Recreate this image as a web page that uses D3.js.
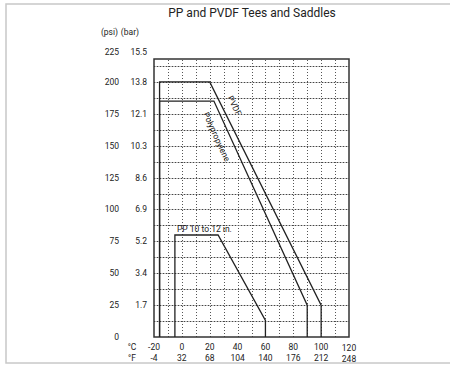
<!DOCTYPE html>
<html><head><meta charset="utf-8">
<script src="https://cdn.jsdelivr.net/npm/d3@7"></script>
<style>
body{margin:0;background:#fff;}
text{font-family:Roboto,"DejaVu Sans Condensed",sans-serif;fill:#222;}
</style></head>
<body>
<svg id="chart" width="450" height="367"></svg>
<script>
const title = "PP and PVDF Tees and Saddles";
const psiTicks = [0,25,50,75,100,125,150,175,200,225];
const barTicks = ["","1.7","3.4","5.2","6.9","8.6","10.3","12.1","13.8","15.5"];
const cTicks = [-20,0,20,40,60,80,100,120];
const fTicks = ["-4","32","68","104","140","176","212","248"];
const gridPsi = [12.5,25,37.5,50,62.5,75,87.5,100,112.5,125,137.5,150,162.5,175,187.5,200,212.5];
const gridC = [-10,0,10,20,30,40,50,60,70,80,90,100,110];
// curves: [°C, psi]
const pvdf = [[-16,0],[-16,200],[20,200],[100,25],[100,0]];
const polypropylene = [[-16,0],[-16,185],[23,185],[90,25],[90,0]];
const pp10to12 = [[-5,0],[-5,80],[26,80],[60,13],[60,0]];

const svg = d3.select("#chart");
svg.append("rect").attr("x",6).attr("y",4).attr("width",460).attr("height",359)
  .attr("fill","none").attr("stroke","#c8c8c8").attr("stroke-width",1.5);

const x = d3.scaleLinear().domain([-20,120]).range([154,349]);
const y = d3.scaleLinear().domain([0,218]).range([337,59]);

svg.append("text").attr("x",252).attr("y",17).attr("text-anchor","middle")
  .style("font-size","12px").text(title);

const g = svg.append("g");
gridPsi.forEach(p=>{
  const yy = Math.round(y(p))+0.5;
  g.append("line").attr("x1",x(-20)).attr("x2",x(120)).attr("y1",yy).attr("y2",yy)
   .attr("stroke","#bdbdbd").attr("stroke-width",1);
  g.append("line").attr("x1",x(-20)).attr("x2",x(120)).attr("y1",yy).attr("y2",yy)
   .attr("stroke","#444").attr("stroke-width",1).attr("stroke-dasharray","1,2");
});
gridC.forEach(c=>{
  const xx = Math.round(x(c))+0.5;
  g.append("line").attr("y1",y(0)).attr("y2",y(218)).attr("x1",xx).attr("x2",xx)
   .attr("stroke","#555").attr("stroke-width",1).attr("stroke-dasharray","1,2");
});
svg.append("rect").attr("x",x(-20)).attr("y",y(218)).attr("width",x(120)-x(-20)).attr("height",y(0)-y(218))
  .attr("fill","none").attr("stroke","#333").attr("stroke-width",1.5);

const line = d3.line().x(d=>x(d[0])).y(d=>y(d[1]));
[pvdf,polypropylene,pp10to12].forEach(s=>{
  svg.append("path").attr("d",line(s)).attr("fill","none").attr("stroke","#222").attr("stroke-width",1.3);
});

const fs = "8.5px";
svg.append("text").attr("x",118).attr("y",35).attr("text-anchor","end").style("font-size",fs).text("(psi)");
svg.append("text").attr("x",139).attr("y",35).attr("text-anchor","end").style("font-size",fs).text("(bar)");
psiTicks.forEach((p,i)=>{
  const yy = i===psiTicks.length-1 ? 52 : y(p);
  svg.append("text").attr("x",119).attr("y",yy).attr("dy","0.35em").attr("text-anchor","end").style("font-size",fs).text(p);
  if(barTicks[i]) svg.append("text").attr("x",147).attr("y",yy).attr("dy","0.35em").attr("text-anchor","end").style("font-size",fs).text(barTicks[i]);
});
svg.append("text").attr("x",132).attr("y",347).attr("dy","0.35em").attr("text-anchor","middle").style("font-size",fs).text("°C");
svg.append("text").attr("x",132).attr("y",358).attr("dy","0.35em").attr("text-anchor","middle").style("font-size",fs).text("°F");
cTicks.forEach((c,i)=>{
  const off = c===120 ? 1.5 : 0;
  svg.append("text").attr("x",x(c)).attr("y",347+off).attr("dy","0.35em").attr("text-anchor","middle").style("font-size",fs).text(c);
  svg.append("text").attr("x",x(c)).attr("y",358+off).attr("dy","0.35em").attr("text-anchor","middle").style("font-size",fs).text(fTicks[i]);
});

function slopeAngle(a,b){return Math.atan2(y(b[1])-y(a[1]), x(b[0])-x(a[0]))*180/Math.PI;}
const aP = slopeAngle(pvdf[2],pvdf[3]);
svg.append("text").attr("transform",`translate(232,107) rotate(${aP})`).attr("text-anchor","middle").style("font-size",fs).text("PVDF");
const aPP = slopeAngle(polypropylene[2],polypropylene[3]);
svg.append("text").attr("transform",`translate(214,138) rotate(${aPP})`).attr("text-anchor","middle").style("font-size",fs).text("Polypropylene");
svg.append("text").attr("x",177).attr("y",232).style("font-size",fs).text("PP 10 to 12 in.");
</script>
</body></html>
